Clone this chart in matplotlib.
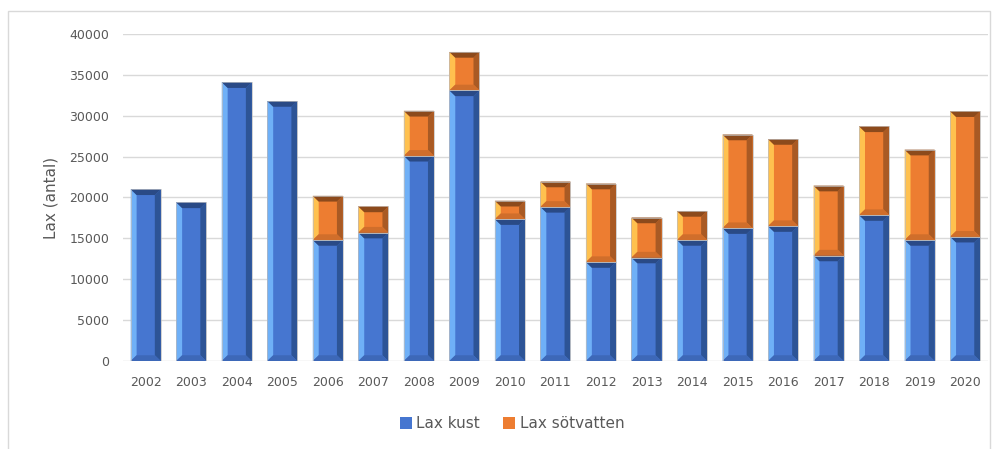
import matplotlib.pyplot as plt
from matplotlib.patches import Polygon, Rectangle
import numpy as np

years = [str(y) for y in range(2002, 2021)]
lax_kust = [21000, 19400, 34100, 31800, 14800, 15700, 25100, 33100, 17350,
            18850, 12100, 12650, 14800, 16250, 16500, 12900, 17850, 14800, 15200]
lax_sotvatten = [0, 0, 0, 0, 5400, 3200, 5500, 4700, 2250,
                 3100, 9600, 4900, 3550, 11450, 10650, 8550, 10850, 11050, 15350]

# base, light (left), dark (right), top edge, bottom edge
blue = ['#4676D0', '#6FB0F7', '#2D5496', '#2A4A86', '#3D68B8']
orange = ['#ED7D31', '#FFC14F', '#A95A24', '#8C4A1C', '#D06E2B']

fig = plt.figure(figsize=(9.98, 4.49), dpi=100)
fig.patches.append(Rectangle((0.008, -0.01), 0.984, 0.9855, transform=fig.transFigure,
                             fill=False, edgecolor='#D9D9D9', linewidth=1))
ax = fig.add_axes([0.1232, 0.196, 0.8667, 0.7283])

x = np.arange(len(years))
width = 0.66
b1 = ax.bar(x, lax_kust, width, color=blue[0], label='Lax kust', zorder=2)
b2 = ax.bar(x, lax_sotvatten, width, bottom=lax_kust, color=orange[0],
            label='Lax sötvatten', zorder=2)


def bevel(bars, cols):
    # fake excel bevel: light left side, dark right side, dark top
    for p in bars:
        h = p.get_height()
        if h <= 0:
            continue
        x0, y0 = p.get_x(), p.get_y()
        x1, y1 = x0 + p.get_width(), y0 + h
        bx = min(0.13, p.get_width() / 2)
        by = min(700, h / 2)
        a = (x0, y0); bb = (x1, y0); c = (x1, y1); d = (x0, y1)
        ia = (x0 + bx, y0 + by); ib = (x1 - bx, y0 + by)
        ic = (x1 - bx, y1 - by); id_ = (x0 + bx, y1 - by)
        for pts, col in [([a, ia, id_, d], cols[1]),
                         ([bb, ib, ic, c], cols[2]),
                         ([d, c, ic, id_], cols[3]),
                         ([a, bb, ib, ia], cols[4])]:
            ax.add_patch(Polygon(pts, closed=True, facecolor=col, edgecolor='none', zorder=3))
        ax.add_patch(Rectangle((x0, y0), x1 - x0, h, fill=False,
                               edgecolor='#BFBFBF', linewidth=0.5, zorder=4))


bevel(b1, blue)
bevel(b2, orange)

ax.set_xlim(-0.5, len(years) - 0.5)
ax.set_ylim(0, 40000)
ax.set_yticks(range(0, 40001, 5000))
ax.set_xticks(x)
ax.set_xticklabels(years)
ax.tick_params(axis='both', length=0, labelsize=9, labelcolor='#595959')
ax.tick_params(axis='x', pad=11)
ax.tick_params(axis='y', pad=10)
ax.grid(axis='y', color='#D9D9D9', linewidth=1, zorder=0)
ax.set_axisbelow(True)
for s in ax.spines.values():
    s.set_visible(False)
ax.set_ylabel('Lax (antal)', fontsize=11, color='#595959', labelpad=8)

fig.legend(handles=[b1, b2], loc='center', bbox_to_anchor=(0.513, 0.056), ncol=2,
           frameon=False, fontsize=11, labelcolor='#595959', handlelength=0.8,
           handleheight=0.8, handletextpad=0.3, columnspacing=1.5)

fig.savefig('out.png', dpi=100)
